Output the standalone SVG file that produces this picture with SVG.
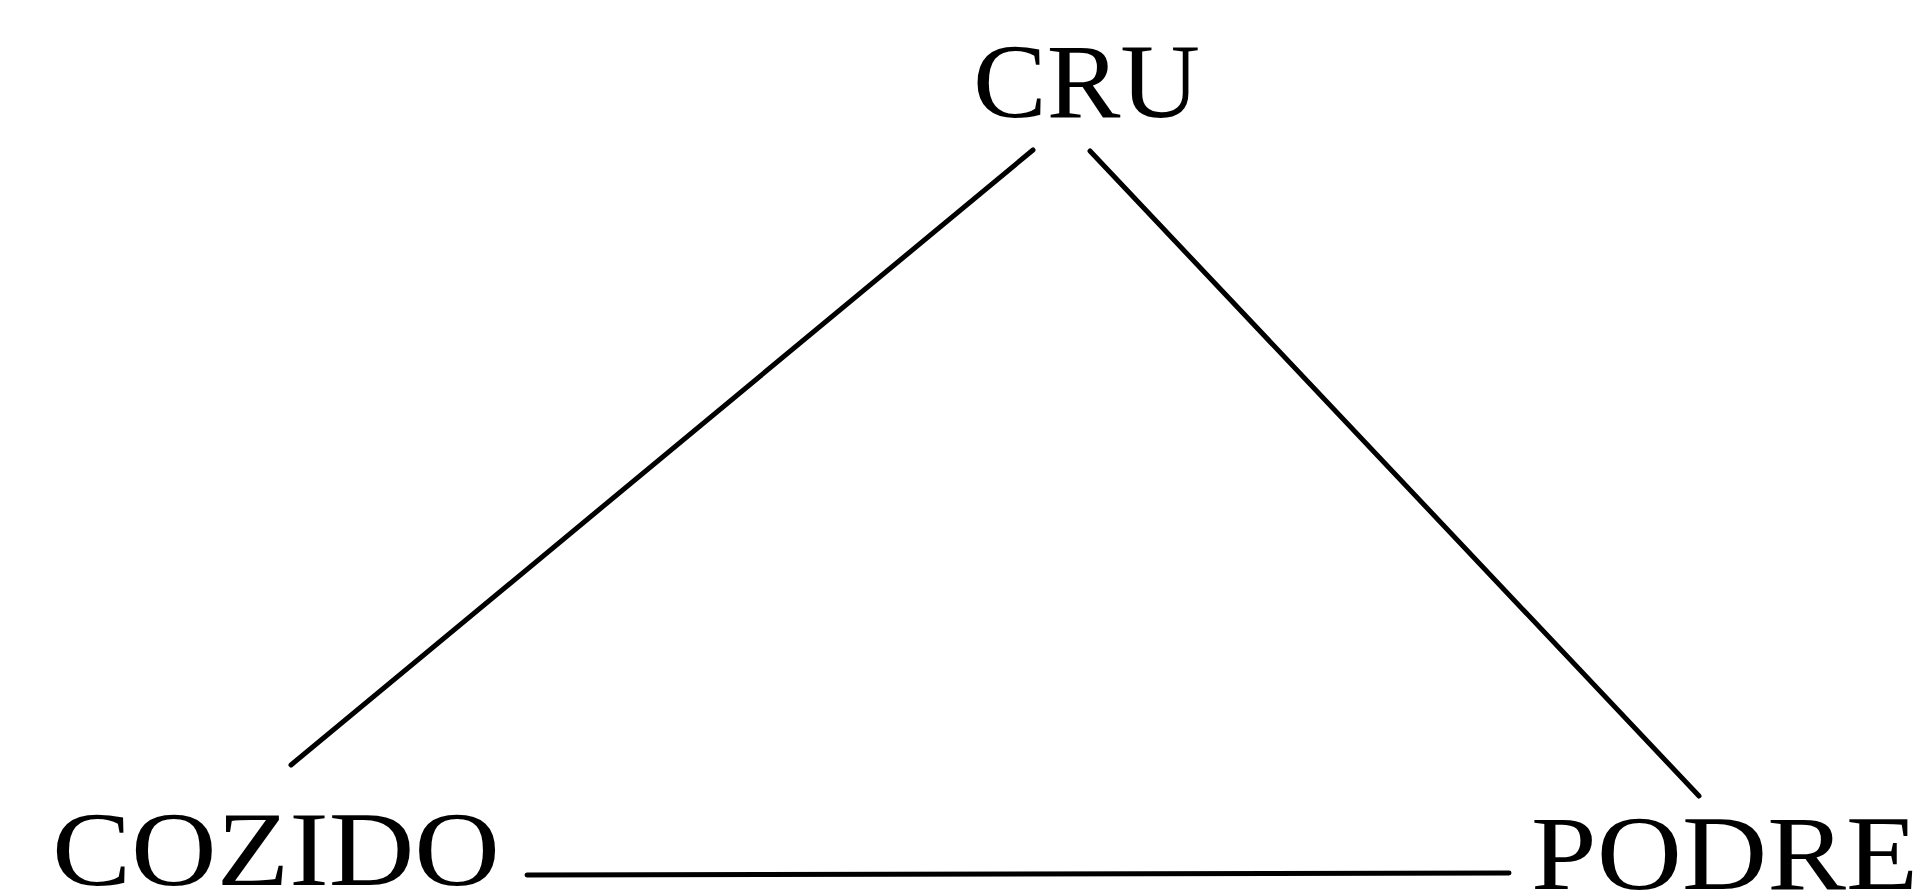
<svg xmlns="http://www.w3.org/2000/svg" width="1930" height="893" viewBox="0 0 1930 893">
<style>
.lbl{font-family:"Liberation Serif","DejaVu Serif",serif;font-size:106px;fill:#000}
.edge{stroke:#000;stroke-width:5;stroke-linecap:round;fill:none}
</style>
<rect width="1930" height="893" fill="#fff"/>
<g id="connectors">
<line class="edge" x1="1033" y1="150" x2="291" y2="765"/>
<line class="edge" x1="1090" y1="151" x2="1699" y2="796"/>
<line class="edge" x1="527" y1="875" x2="1509" y2="873"/>
</g>
<g id="node-cru"><text class="lbl" x="973" y="117" textLength="227" lengthAdjust="spacingAndGlyphs">CRU</text></g>
<g id="node-cozido"><text class="lbl" x="52" y="885" textLength="448" lengthAdjust="spacingAndGlyphs">COZIDO</text></g>
<g id="node-podre"><text class="lbl" x="1531" y="889" textLength="387" lengthAdjust="spacingAndGlyphs">PODRE</text></g>
</svg>
